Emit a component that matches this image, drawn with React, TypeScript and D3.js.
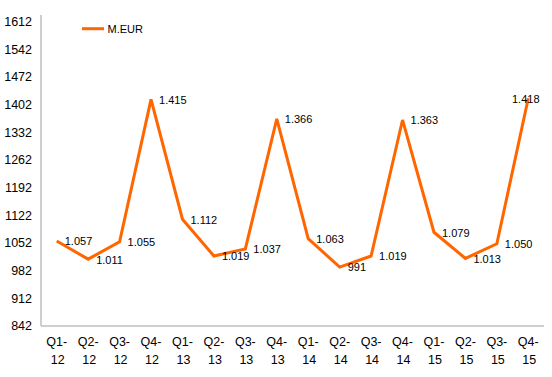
import React from "react";
import * as d3 from "d3";

const categories = ["Q1-12","Q2-12","Q3-12","Q4-12","Q1-13","Q2-13","Q3-13","Q4-13","Q1-14","Q2-14","Q3-14","Q4-14","Q1-15","Q2-15","Q3-15","Q4-15"];
const values = [1057,1011,1055,1415,1112,1019,1037,1366,1063,991,1019,1363,1079,1013,1050,1418];
const yTicks = [842,912,982,1052,1122,1192,1262,1332,1402,1472,1542,1612];
const seriesName = "M.EUR";

const W = 552, H = 377;
const margin = { left: 41, right: 8, top: 21.5, bottom: 51 };
const font = "'Liberation Sans', Arial, sans-serif";
const color = "#FF6600";

function fmt(v: number) {
  return v >= 1000 ? d3.format(",")(v).replace(/,/g, ".") : String(v);
}

export default function App() {
  const x = d3.scaleBand<string>().domain(categories).range([margin.left, W - margin.right]);
  const y = d3.scaleLinear().domain([842, 1612]).range([H - margin.bottom, margin.top]);
  const cx = (c: string) => (x(c) as number) + x.bandwidth() / 2;
  const line = d3.line<number>().x((_, i) => cx(categories[i])).y((d) => y(d));
  const plotRight = W - margin.right;

  return (
    <svg width={W} height={H} style={{ position: "absolute", left: 0, top: 0, background: "#fff" }} fontFamily={font}>
      <line x1={margin.left} x2={margin.left} y1={15} y2={y(842)} stroke="#bfbfbf" strokeWidth={1.5} />
      <line x1={margin.left} x2={plotRight} y1={y(842)} y2={y(842)} stroke="#bfbfbf" strokeWidth={1.5} />
      {yTicks.map((t) => (
        <text key={t} x={32} y={y(t)} dy="0.35em" textAnchor="end" fontSize={12.5} fill="#000">{t}</text>
      ))}
      {categories.map((c) => {
        const [a, b] = c.split("-");
        return (
          <text key={c} x={cx(c)} textAnchor="middle" fontSize={12.5} fill="#000">
            <tspan x={cx(c)} y={y(842) + 20}>{a}-</tspan>
            <tspan x={cx(c) + 1} y={y(842) + 38}>{b}</tspan>
          </text>
        );
      })}
      <path d={line(values) as string} fill="none" stroke={color} strokeWidth={3} strokeLinejoin="miter" />
      {values.map((v, i) => {
        const px = cx(categories[i]);
        const label = fmt(v);
        const wEst = label.length * 6;
        let lx = px + 8;
        if (lx + wEst > plotRight) lx = plotRight - wEst - 2;
        return (
          <text key={i} x={lx} y={y(v)} dy="0.4em" fontSize={11} fill="#000">{label}</text>
        );
      })}
      <line x1={82} x2={104} y1={28.7} y2={28.7} stroke={color} strokeWidth={3} />
      <text x={107.5} y={28.7} dy="0.36em" fontSize={11} fill="#000">{seriesName}</text>
    </svg>
  );
}
